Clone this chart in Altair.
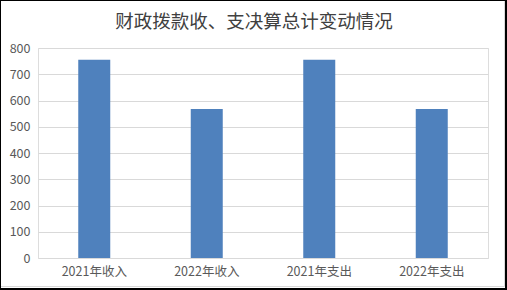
import altair as alt
import pandas as pd

categories = ["2021年收入", "2022年收入", "2021年支出", "2022年支出"]
values = [755, 568, 755, 568]
y_ticks = [0, 100, 200, 300, 400, 500, 600, 700, 800]
title_text = "财政拨款收、支决算总计变动情况"

df = pd.DataFrame({"category": categories, "value": values})

W, H = 450, 210
PL, PT, PR, PB = 38, 48, 19, 32
CJK = "Noto Sans CJK SC"

bars = alt.Chart(df).mark_bar(color="#4F81BD", size=32).encode(
    x=alt.X("category:N", sort=categories,
            scale=alt.Scale(paddingInner=0, paddingOuter=0),
            axis=alt.Axis(title=None, labelAngle=0, ticks=False, domain=False,
                          labelPadding=7, labelFont=CJK, labelFontSize=12.5,
                          labelColor="#595959", grid=False)),
    y=alt.Y("value:Q", scale=alt.Scale(domain=[0, 800], nice=False),
            axis=alt.Axis(title=None, values=y_ticks, ticks=False, tickSize=0,
                          domain=False, labelPadding=8, labelFont=CJK,
                          labelFontSize=12.5, labelColor="#595959",
                          grid=True, gridColor="#D9D9D9", gridWidth=1)),
)

frame_data = alt.Data(values=[{"k": 1}])
title_mark = alt.Chart(frame_data).mark_text(
    text=title_text, font=CJK, fontSize=18.5, color="#404040",
    align="center", baseline="middle",
).encode(x=alt.value(254 - PL), y=alt.value(22 - PT))

gray_frame = alt.Chart(frame_data).mark_rect(filled=False, stroke="#D9D9D9", strokeWidth=1).encode(
    x=alt.value(-PL + 0.5), x2=alt.value(504.5 - PL),
    y=alt.value(-PT + 0.5), y2=alt.value(286.5 - PT),
)
black_frame = alt.Chart(frame_data).mark_rect(filled=False, stroke="#000000", strokeWidth=2).encode(
    x=alt.value(-PL), x2=alt.value(506 - PL),
    y=alt.value(-PT), y2=alt.value(289 - PT),
)

chart = alt.layer(bars, title_mark, gray_frame, black_frame).properties(
    width=W, height=H,
    autosize=alt.AutoSizeParams(type="none"),
    padding={"left": PL, "top": PT, "right": PR, "bottom": PB},
).configure_view(strokeWidth=0, stroke="transparent").configure(background="white")

chart.save("out.html", embed_options={"renderer": "svg", "actions": False})
